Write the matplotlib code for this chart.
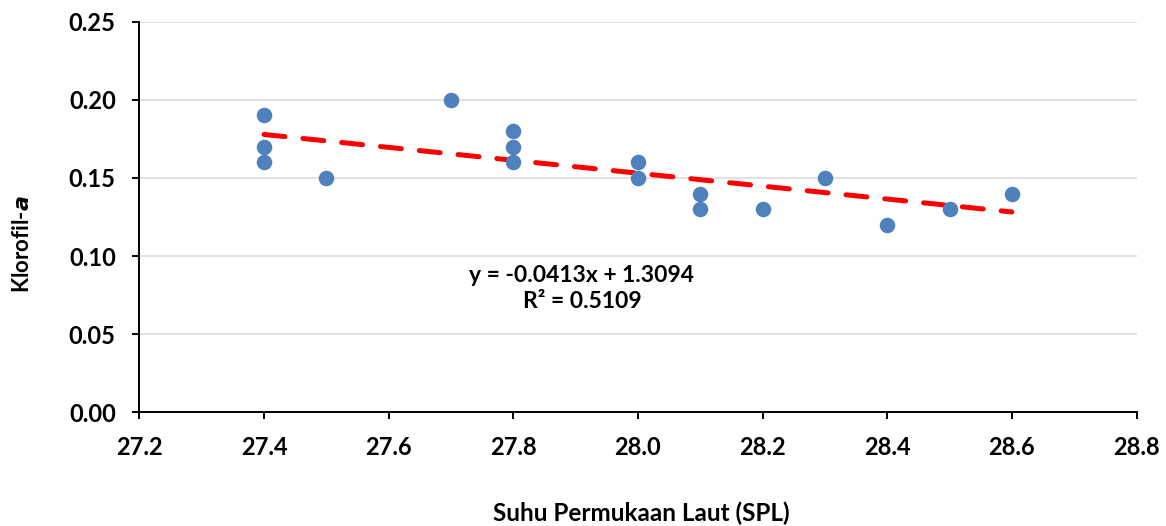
import numpy as np
import matplotlib
matplotlib.use("Agg")
import matplotlib.pyplot as plt

# sea surface temperature vs chlorophyll-a
spl = [27.4, 27.4, 27.4, 27.5, 27.7, 27.8, 27.8, 27.8, 28.0, 28.0,
       28.1, 28.1, 28.2, 28.3, 28.4, 28.5, 28.6]
klorofil = [0.19, 0.17, 0.16, 0.15, 0.20, 0.18, 0.17, 0.16, 0.16, 0.15,
            0.14, 0.13, 0.13, 0.15, 0.12, 0.13, 0.14]

# linear trendline as reported
slope = -0.0413
intercept = 1.3094
r_squared = 0.5109

xticks = [27.2, 27.4, 27.6, 27.8, 28.0, 28.2, 28.4, 28.6, 28.8]
yticks = [0.00, 0.05, 0.10, 0.15, 0.20, 0.25]

plt.rcParams['font.family'] = ['Lato', 'DejaVu Sans']
plt.rcParams['font.weight'] = 'bold'

fig = plt.figure(figsize=(11.66, 5.26), dpi=100)
ax = fig.add_axes([0.1196, 0.2158, 0.8551, 0.7433])

ax.set_xlim(27.2, 28.8)
ax.set_ylim(0, 0.25)
ax.set_xticks(xticks)
ax.set_yticks(yticks)
ax.set_xticklabels(["%.1f" % v for v in xticks])
ax.set_yticklabels(["%.2f" % v for v in yticks])

ax.yaxis.grid(True, color="#d9d9d9", linewidth=1.1)
ax.set_axisbelow(True)

for s in ["top", "right"]:
    ax.spines[s].set_visible(False)
for s in ["left", "bottom"]:
    ax.spines[s].set_linewidth(1.4)
    ax.spines[s].set_color("black")

ax.tick_params(axis="both", direction="out", length=5, width=1.4,
               pad=12, labelsize=17)

ax.scatter(spl, klorofil, s=125, color="#4f81bd", zorder=3, linewidths=0)

xs = np.array([min(spl), max(spl)])
ax.plot(xs, slope * xs + intercept, color="#ff0000", linewidth=3.6,
        linestyle=(0, (4.2, 3.6)), dash_capstyle="round", zorder=2)

ax.text(27.91, 0.0795, "y = %.4fx + %.4f\nR² = %.4f" % (slope, intercept, r_squared),
        ha="center", va="center", fontsize=16.5, fontweight="bold",
        linespacing=1.3)

fig.text(0.55, 0.025, "Suhu Permukaan Laut (SPL)", ha="center", va="center",
         fontsize=17.5, fontweight="bold")
fig.text(0.019, 0.535, "Klorofil-$\\mathbf{\\mathit{a}}$", ha="center", va="center",
         rotation=90, fontsize=16, fontweight="bold")

fig.savefig("out.png", dpi=100)
